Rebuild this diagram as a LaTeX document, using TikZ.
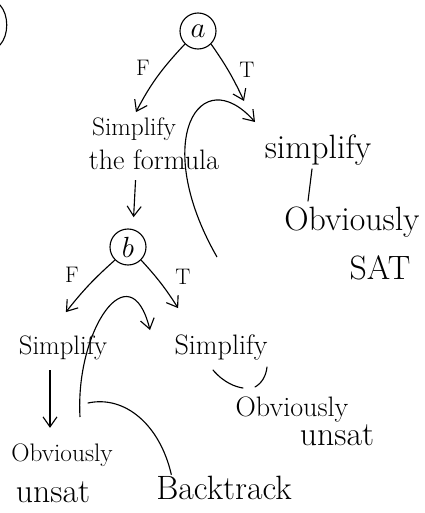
\documentclass[tikz,border=0pt]{standalone}
\usetikzlibrary{arrows.meta, calc}
\tikzset{
	hand/.style = {font=\fontsize{24}{26}\selectfont, inner sep=1pt, align=center},
	var/.style = {circle, draw, thick, minimum size=0.9cm, inner sep=0pt, font=\fontsize{20}{24}\selectfont},
	branch/.style = {thick, -{Straight Barb[length=2.5mm,width=3.5mm]}},
	stroke/.style = {thick, line cap=round}
}
\begin{document}
\begin{tikzpicture}[x=0.025cm, y=-0.025cm]
		\useasboundingbox (0,0) rectangle (425,513);
		\draw [stroke] (0,5) .. controls (9,15) and (9,35) .. (0,45);
		% first variable
		\node [var] (a) at (198,31) {$a$};
		\node [hand, font=\fontsize{16}{19}\selectfont] (aF) at (143,68) {F};
		\node [hand, font=\fontsize{16}{19}\selectfont] (aT) at (247,70) {T};
		\node [hand, font=\fontsize{18}{20}\selectfont] (simpA) at (134,129) {Simplify};
		\node [hand, font=\fontsize{20}{22}\selectfont] (formula) at (154,160) {the formula};
		\node [hand] (simpB) at (318,150) {simplify};
		\node [hand] (obSat) at (352,222) {Obviously};
		\node [hand] (sat) at (380,268) {SAT};
		\coordinate (aT tip) at (244,101);
		\draw [branch, shorten >=3pt] (a.south west) to [bend right=8] (simpA.north);
		\draw [branch] (a.south east) to [bend left=5] (aT tip);
		\draw [stroke] ($(simpB.south)+(-6,2)$) -- ($(obSat.north)+(-44,-4)$);
		\coordinate (backA) at (217,257);
		\coordinate (backAend) at (255,122);
		\draw [branch] (backA) .. controls (150,140) and (200,60) .. (backAend);
		% second variable
		\node [var] (b) at (128,247) {$b$};
		\draw [branch, shorten <=6pt, shorten >=8pt] (formula.south -| 136,0) -- (b.north -| 133,0);
		\node [hand, font=\fontsize{16}{19}\selectfont] (bF) at (72,275) {F};
		\node [hand, font=\fontsize{16}{19}\selectfont] (bT) at (183,277) {T};
		\node [hand, font=\fontsize{19}{22}\selectfont] (simpL) at (63,348) {Simplify};
		\node [hand, font=\fontsize{20}{22}\selectfont] (simpR) at (221,347) {Simplify};
		\node [hand, font=\fontsize{18}{22}\selectfont] (obL) at (62,455) {Obviously};
		\node [hand] (unsatL) at (53,492) {unsat};
		\node [hand, font=\fontsize{20}{22}\selectfont] (obR) at (292,410) {Obviously};
		\node [hand] (unsatR) at (337,435) {unsat};
		\node [hand] (back) at (224,488) {Backtrack};
		\draw [branch] (b.south west) to [bend right=5] ++(-49,52);
		\draw [branch] (b.south east) to [bend left=5] ++(37,48);
		\coordinate (backB) at (80,417);
		\coordinate (backBend) at (150,330);
		\draw [branch] (backB) .. controls (75,330) and (130,250) .. (backBend);
		\draw [branch, shorten <=6pt, shorten >=10pt] (simpL.south -| 50,0) -- (obL.north -| 50,0);
		\draw [stroke] (213,370) .. controls (224,383) and (236,387) .. (243,388);
		\draw [stroke] (255,387) .. controls (262,383) and (266,376) .. (267,367);
		\coordinate (backTip) at (88,403);
		\draw [stroke] (backTip) .. controls (125,395) and (160,425) .. ($(back.north west)!0.12!(back.north east)$);
\end{tikzpicture}
\end{document}
